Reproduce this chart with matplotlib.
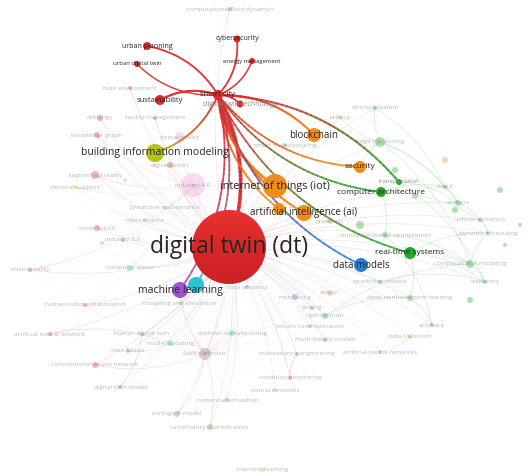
import matplotlib.pyplot as plt
import numpy as np
from matplotlib.collections import LineCollection
from matplotlib.patches import Circle
from matplotlib.colors import to_rgb

# cluster colours (VOSviewer style)
colors = {
    "red": "#de2a2c",
    "yellow": "#b4c21c",
    "orange": "#f08c1c",
    "green": "#23a82c",
    "blue": "#2a7ed6",
    "purple": "#9a55cf",
    "cyan": "#2cc3d5",
    "pink": "#ee9fd8",
    "brown": "#b07a6a",
}

# items linked to "smart city" (highlighted)
hi_labels = ["digital twin (dt)", "smart city", "digital twin technology", "sustainability",
             "urban planning", "urban digital twin", "cybersecurity", "energy management",
             "building information modeling", "blockchain", "security", "internet of things (iot)",
             "artificial intelligence (ai)", "", "computer architecture", "transportation",
             "real-time systems", "data models", "machine learning", ""]
hi_x = [229, 218, 240, 160, 147, 137, 237, 252, 155, 314, 360, 275, 304, 279, 381, 399, 410, 361, 180, 196]
hi_y = [247, 95, 104, 100, 46, 64, 39, 61, 153, 135, 167, 186, 213, 209, 192, 182, 253, 265, 290, 285]
hi_r = [37, 5, 3.5, 5, 4, 3, 3.5, 3, 9, 7, 6, 12, 8, 6, 5, 3, 6, 7, 8, 8]
hi_cl = ["red", "red", "red", "red", "red", "red", "red", "red", "yellow", "orange", "orange",
         "orange", "orange", "orange", "green", "green", "green", "blue", "purple", "cyan"]
hi_fs = [16.5, 5.5, 5, 5.5, 5, 4.3, 5, 4.3, 7.5, 7, 6, 7.8, 7, 5, 6, 4.3, 6, 7, 7.6, 5]

# remaining items (faded)
lo_labels = ["computational fluid dynamics", "built environment", "ontology", "facility management",
             "knowledge graph", "virtual reality", "digitalization", "augmented reality",
             "decision support", "industry 4.0", "predictive maintenance", "maintenance",
             "construction", "industry 5.0", "mixed reality", "computer vision",
             "human-robot collaboration", "modeling and simulation", "synchronization", "privacy",
             "edge computing", "smart manufacturing", "cloud", "sensors", "vehicle dynamics",
             "dynamic scheduling", "protocols", "simulation-based optimization",
             "computational modeling", "predictive models", "trajectory", "sensor", "monitoring",
             "deep reinforcement learning", "testing", "optimization", "secure communication",
             "accuracy", "data collection", "multi-fidelity models", "artificial neural networks",
             "maintenance engineering", "condition monitoring", "neural networks",
             "numerical simulation", "surrogate model", "uncertainty quantification",
             "machine learning", "fault diagnosis", "additive manufacturing", "model updating",
             "data fusion", "human digital twin", "artificial neural network",
             "convolutional neural network", "digital twin model", "data analytics",
             "", "", "", "", "", "", "", "", "", "", ""]
lo_x = [230, 130, 100, 155, 97, 180, 170, 95, 75, 193, 165, 145, 97, 123, 30, 130, 85, 180,
        375, 340, 380, 285, 445, 458, 480, 488, 330, 385, 470, 380, 485, 330, 295, 410, 312,
        325, 310, 432, 410, 325, 380, 297, 290, 275, 227, 177, 210, 263, 205, 232, 170, 128,
        142, 50, 95, 120, 247, 102, 415, 500, 505, 470, 445, 125, 455, 360, 395, 520, 300]
lo_y = [9, 88, 118, 118, 135, 137, 165, 175, 187, 185, 208, 220, 228, 240, 270, 268, 305, 303,
        108, 117, 142, 145, 187, 203, 220, 233, 221, 235, 264, 282, 282, 293, 297, 298, 308,
        316, 326, 325, 337, 340, 352, 354, 378, 390, 400, 414, 427, 470, 354, 333, 343, 351,
        334, 334, 365, 387, 287, 243, 196, 190, 245, 300, 160, 180, 210, 225, 170, 225, 260]
lo_r = [2, 2, 3, 2, 3, 5, 3, 4, 2, 12, 2, 2, 3, 2, 2, 3, 2, 2, 2, 2, 5, 2, 2, 3, 2, 2, 3, 3,
        4, 2, 2, 3, 3, 3, 2, 3, 2, 2, 2, 2, 2, 2, 2, 2, 2, 3, 3, 2, 6, 3, 3, 2, 2, 2, 3, 2, 2,
        2, 3, 3, 2, 3, 3, 2, 3, 4, 3, 2, 3]
lo_cl = ["red", "red", "red", "red", "red", "pink", "red", "red", "yellow", "pink", "yellow",
         "yellow", "red", "red", "red", "cyan", "red", "yellow", "green", "orange", "green",
         "blue", "green", "green", "green", "green", "orange", "green", "green", "blue", "green",
         "orange", "blue", "green", "blue", "green", "cyan", "green", "orange", "blue", "orange",
         "blue", "red", "yellow", "blue", "brown", "brown", "yellow", "brown", "cyan", "cyan",
         "purple", "purple", "red", "red", "purple", "blue", "cyan", "green", "green", "green",
         "green", "orange", "yellow", "green", "green", "green", "green", "blue"]

# links of the selected item "smart city" (order of the pair sets the bend)
hi_edges = [
    ("smart city", "digital twin (dt)", 2.6),
    ("urban planning", "smart city", 1.3),
    ("smart city", "urban digital twin", 1.0),
    ("sustainability", "smart city", 1.5),
    ("cybersecurity", "smart city", 1.2),
    ("energy management", "smart city", 1.0),
    ("smart city", "digital twin technology", 1.0),
    ("smart city", "building information modeling", 1.3),
    ("smart city", "blockchain", 1.5),
    ("security", "smart city", 1.3),
    ("internet of things (iot)", "smart city", 2.0),
    ("artificial intelligence (ai)", "smart city", 1.6),
    ("orange2", "smart city", 1.3),
    ("computer architecture", "smart city", 1.3),
    ("smart city", "transportation", 1.5),
    ("real-time systems", "smart city", 1.3),
    ("data models", "smart city", 1.3),
    ("smart city", "machine learning", 1.3),
    ("smart city", "cyan2", 1.3),
]

# faint background links among the other items
lo_edges = [
    ("edge computing", "synchronization"), ("edge computing", "privacy"), ("edge computing", "cloud"),
    ("cloud", "sensors"), ("sensors", "vehicle dynamics"), ("vehicle dynamics", "dynamic scheduling"),
    ("computational modeling", "trajectory"), ("computational modeling", "dynamic scheduling"),
    ("real-time systems", "computational modeling"), ("real-time systems", "deep reinforcement learning"),
    ("deep reinforcement learning", "accuracy"), ("optimization", "deep reinforcement learning"),
    ("computer architecture", "cloud"), ("computer architecture", "simulation-based optimization"),
    ("simulation-based optimization", "computational modeling"), ("transportation", "sensors"),
    ("edge computing", "sensors"), ("synchronization", "cloud"), ("transportation", "trajectory"),
    ("computer architecture", "vehicle dynamics"), ("edge computing", "computational modeling"),
    ("real-time systems", "trajectory"), ("real-time systems", "dynamic scheduling"),
    ("simulation-based optimization", "accuracy"), ("optimization", "computational modeling"),
    ("industry 4.0", "augmented reality"), ("industry 4.0", "decision support"),
    ("industry 4.0", "predictive maintenance"), ("industry 4.0", "virtual reality"),
    ("industry 4.0", "knowledge graph"), ("industry 4.0", "mixed reality"),
    ("fault diagnosis", "surrogate model"), ("fault diagnosis", "convolutional neural network"),
    ("fault diagnosis", "uncertainty quantification"), ("fault diagnosis", "machine learning"),
    ("model updating", "data fusion"), ("human digital twin", "digital twin model"),
    ("artificial neural network", "model updating"), ("condition monitoring", "maintenance engineering"),
    ("data collection", "artificial neural networks"), ("predictive models", "trajectory"),
    ("privacy", "blockchain"), ("security", "edge computing"),
]

plt.rcParams["font.family"] = ["Open Sans", "DejaVu Sans"]

fig = plt.figure(figsize=(5.31, 4.76), dpi=100)
ax = fig.add_axes([0, 0, 1, 1])
ax.set_xlim(0, 531)
ax.set_ylim(476, 0)
ax.set_aspect("equal")
ax.axis("off")

pos = {}
col = {}
for lab, x, y, c in zip(hi_labels, hi_x, hi_y, hi_cl):
    key = lab if lab else c + "2"
    pos[key] = (x, y)
    col[key] = c
for lab, x, y, c in zip(lo_labels, lo_x, lo_y, lo_cl):
    if lab and lab not in pos:
        pos[lab] = (x, y)
        col[lab] = c


def curve(p0, p1, k=0.22, n=40):
    p0 = np.array(p0, float)
    p1 = np.array(p1, float)
    d = p1 - p0
    nrm = np.array([d[1], -d[0]])
    ctrl = (p0 + p1) / 2 + k * nrm
    t = np.linspace(0, 1, n)[:, None]
    return (1 - t) ** 2 * p0 + 2 * (1 - t) * t * ctrl + t ** 2 * p1


def draw_link(a, b, lw, alpha, z, k=0.22):
    pts = curve(pos[a], pos[b], k)
    segs = np.stack([pts[:-1], pts[1:]], axis=1)
    c0 = np.array(to_rgb(colors[col[a]]))
    c1 = np.array(to_rgb(colors[col[b]]))
    t = np.linspace(0, 1, len(segs))[:, None] ** 1.5
    cs = np.hstack([(1 - t) * c0 + t * c1, np.full((len(segs), 1), alpha)])
    ax.add_collection(LineCollection(segs, colors=cs, linewidths=lw, capstyle="round", zorder=z))


# faint links: digital twin to everything, plus local ones
for lab in lo_labels:
    if lab in pos:
        draw_link("digital twin (dt)", lab, 0.4, 0.17, 1, k=0.12)
        draw_link("industry 4.0", lab, 0.3, 0.09, 1, k=0.12)
        draw_link("fault diagnosis", lab, 0.3, 0.06, 1, k=0.1)
for a, b in lo_edges:
    draw_link(a, b, 0.4, 0.22, 1, k=0.15)

# faded items
for lab, x, y, r, c in zip(lo_labels, lo_x, lo_y, lo_r, lo_cl):
    ax.add_patch(Circle((x, y), r, color=colors[c], alpha=0.35, lw=0, zorder=2))
    if lab:
        ax.text(x, y, lab, fontsize=4.6, color="#a8a8a8", alpha=0.8,
                ha="center", va="center", zorder=3)

# highlighted links
for a, b, w in hi_edges:
    draw_link(a, b, w, 0.85, 4)

# highlighted items
for lab, x, y, r, c in zip(hi_labels, hi_x, hi_y, hi_r, hi_cl):
    ax.add_patch(Circle((x, y), r, color=colors[c], lw=0, zorder=5))

# soft shading on the big bubble
big = Circle((hi_x[0], hi_y[0]), hi_r[0], facecolor="none", lw=0)
ax.add_patch(big)
shade = np.linspace(0, 1, 64)[:, None] * np.ones((1, 8))
ax.imshow(shade, cmap="Reds", vmin=-1.5, vmax=1.2, alpha=0.25,
          extent=(hi_x[0] - 37, hi_x[0] + 37, hi_y[0] + 37, hi_y[0] - 37),
          clip_path=big, zorder=5.5, aspect="auto")

for lab, x, y, c, fs in zip(hi_labels, hi_x, hi_y, hi_cl, hi_fs):
    if lab:
        faded = lab in ("digital twin technology", "transportation")
        ax.text(x, y, lab, fontsize=fs, color="#8a8a8a" if faded else "#262626",
                ha="center", va="center", zorder=6)

ax.set_xlim(0, 531)
ax.set_ylim(476, 0)
fig.savefig("out.png", dpi=100, facecolor="white")
